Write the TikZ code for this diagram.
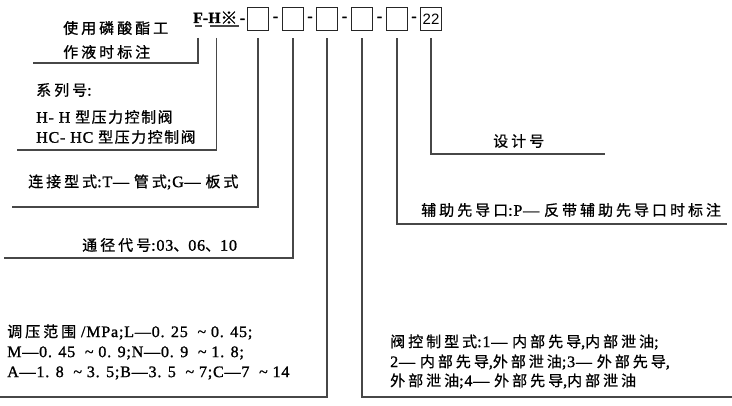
\documentclass[tikz,border=0pt]{standalone}
\usepackage{fontspec}
\setmainfont{Liberation Serif}[Scale=1.07,LetterSpace=5,FakeBold=1.2]
\newfontfamily\cjk{Noto Sans CJK SC}[LetterSpace=20,FakeBold=0.8]
\newfontfamily\cjkt{Noto Sans CJK SC}[LetterSpace=10,FakeBold=0.8]
\newfontfamily\boxfont{Liberation Sans}
\newcommand\zh[1]{{\cjk #1}}
\newcommand\zht[1]{{\cjkt #1}}
\newcommand\tl{\char`\~}
\begin{document}
\begin{tikzpicture}[x=1pt,y=-1pt,
  ln/.style={draw=black!72,line width=1.1pt},
  codebox/.style={draw=black!85,line width=1.1pt,minimum width=21pt,minimum height=23pt,inner sep=0pt},
  lbl/.style={anchor=west,inner sep=0pt,font=\fontsize{15}{16}\selectfont},
  code/.style={inner sep=0pt,font=\fontsize{14.5}{16}\selectfont\bfseries}]
\useasboundingbox (0,0) rectangle (732,406);
\fill[white] (0,0) rectangle (732,406);
% code row
\node[code,anchor=base] (F) at (198,23) {F};
\node[code,anchor=base] (d0) at (205.5,23) {-};
\node[code,anchor=base] (H) at (214.5,23) {H};
\node[code,anchor=base,font=\fontsize{17}{18}\selectfont] (X) at (229,24) {\zh{※}};
\node[code,anchor=base] (d1) at (242.5,23) {-};
\node[codebox] (b1) at (258,19) {};
\node[code] (d2) at (275.5,19) {-};
\node[codebox] (b2) at (293,19) {};
\node[code] (d3) at (310,19) {-};
\node[codebox] (b3) at (327,19) {};
\node[code] (d4) at (344.5,19) {-};
\node[codebox] (b4) at (362,19) {};
\node[code] (d5) at (379.5,19) {-};
\node[codebox] (b5) at (397,19) {};
\node[code] (d6) at (414,19) {-};
\node[codebox,font=\fontsize{15}{16}\selectfont\boxfont] (b22) at (431,19) {22};
% underlines
\coordinate (uF1) at (195,26); \coordinate (uF2) at (202,26);
\coordinate (uH1) at (210,26); \coordinate (uH2) at (239,26);
\draw[ln] (uF1) -- (uF2);
\draw[ln] (uH1) -- (uH2);
% texts
\node[lbl] (n1) at (63,28) {\zh{使用磷酸酯工}};
\node[lbl] (n2) at (63,52) {\zh{作液时标注}};
\node[lbl] (s1) at (36,90) {\zh{系列号}:};
\node[lbl] (s2) at (36,117) {H- H \zht{型压力控制阀}};
\node[lbl] (s3) at (36,137) {HC- HC \zht{型压力控制阀}};
\node[lbl] (t1) at (28,182) {\zh{连接型式}:T— \zh{管式};G— \zh{板式}};
\node[lbl] (t2) at (82,245) {\zh{通径代号}:03\zh{、}06\zh{、}10};
\node[lbl] (p1) at (7,332) {\zh{调压范围} /MPa;L—0. 25 \ \tl{} 0. 45;};
\node[lbl] (p2) at (7,353) {M—0. 45 \ \tl{} 0. 9;N—0. 9 \ \tl{} 1. 8;};
\node[lbl] (p3) at (7,373) {A—1. 8 \ \tl{} 3. 5;B—3. 5 \ \tl{} 7;C—7 \ \tl{} 14};
\node[lbl] (c1) at (390,342) {\zh{阀控制型式}:1— \zh{内部先导},\zh{内部泄油};};
\node[lbl] (c2) at (390,362) {2— \zh{内部先导},\zh{外部泄油};3— \zh{外部先导},};
\node[lbl] (c3) at (390,381) {\zh{外部泄油};4— \zh{外部先导},\zh{内部泄油}};
\node[lbl] (a1) at (421,210) {\zh{辅助先导口}:P— \zh{反带辅助先导口时标注}};
\node[lbl] (g1) at (493,141) {\zh{设计号}};
% line ends
\coordinate (eF) at (33,63);
\coordinate (eH) at (17,150);
\coordinate (e1) at (12,207);
\coordinate (e2) at (4,258);
\coordinate (e3) at (0,397);
\coordinate (e4) at (732,397);
\coordinate (e5) at (727,224);
\coordinate (e22) at (605,154);
% connectors
\draw[ln] ([yshift=-12pt]uF1-|F) |- (eF);
\draw[ln] ([yshift=-12pt]uH1-|X.west) ++(-4,0) |- (eH);
\draw[ln] ([yshift=-7pt]b1.south) |- (e1);
\draw[ln] ([yshift=-7pt]b2.south) |- (e2);
\draw[ln] ([yshift=-7pt]b3.south) |- (e3);
\draw[ln] ([yshift=-7pt]b4.south) |- (e4);
\draw[ln] ([yshift=-7pt]b5.south) |- (e5);
\draw[ln] ([yshift=-7pt]b22.south) |- (e22);
\end{tikzpicture}
\end{document}
